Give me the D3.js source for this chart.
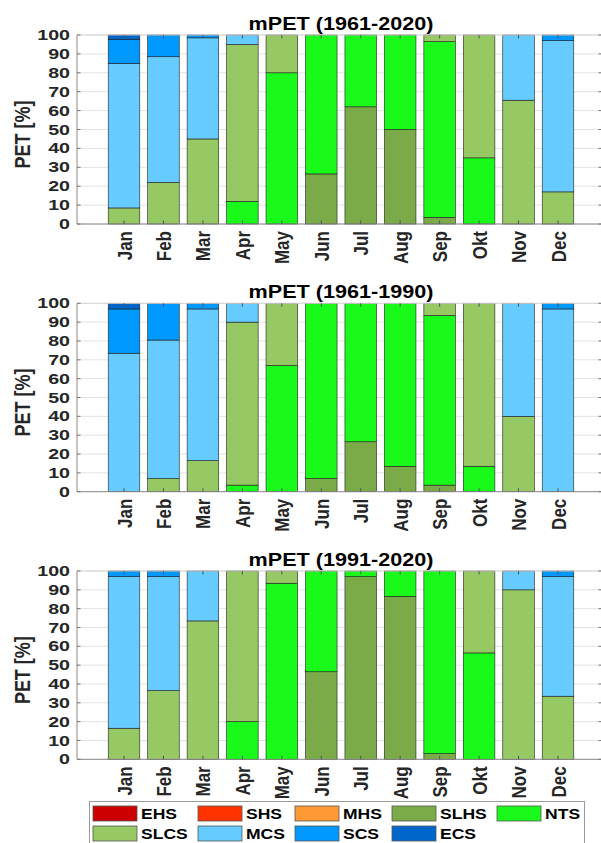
<!DOCTYPE html>
<html>
<head>
<meta charset="utf-8">
<script src="https://cdn.jsdelivr.net/npm/d3@7"></script>
<style>
  html, body { margin: 0; padding: 0; background: #fff; }
  svg { display: block; }
  text { font-family: "Liberation Sans", Arial, sans-serif; font-weight: bold; fill: #262626; }
</style>
</head>
<body>
<svg id="chart" width="601" height="843"></svg>
<script>
// Months on the category axis
const months = ["Jan", "Feb", "Mar", "Apr", "May", "Jun", "Jul", "Aug", "Sep", "Okt", "Nov", "Dec"];

// Thermal classes, stacked bottom to top
const classes = ["EHS", "SHS", "MHS", "SLHS", "NTS", "SLCS", "MCS", "SCS", "ECS"];
const classColors = ["#cc0000", "#ff3300", "#ff9933", "#7bab48", "#1afa1a", "#96c864", "#66ccff", "#0099ff", "#0066cc"];

// Share of each class per month [%], one row per class
const pet1961_2020 = [
  [0, 0, 0, 0, 0, 0, 0, 0, 0, 0, 0, 0],
  [0, 0, 0, 0, 0, 0, 0, 0, 0, 0, 0, 0],
  [0, 0, 0, 0, 0, 0, 0, 0, 0, 0, 0, 0],
  [0, 0, 0, 0, 0, 26.5, 62, 50, 3.5, 0, 0, 0],
  [0, 0, 0, 12, 80, 73.5, 38, 50, 93, 35, 0, 0],
  [8.5, 22, 45, 83, 20, 0, 0, 0, 3.5, 65, 65.5, 17],
  [76.5, 66.5, 53.5, 5, 0, 0, 0, 0, 0, 0, 34.5, 80],
  [12.7, 11.5, 1.5, 0, 0, 0, 0, 0, 0, 0, 0, 3],
  [2.3, 0, 0, 0, 0, 0, 0, 0, 0, 0, 0, 0]
];
const pet1961_1990 = [
  [0, 0, 0, 0, 0, 0, 0, 0, 0, 0, 0, 0],
  [0, 0, 0, 0, 0, 0, 0, 0, 0, 0, 0, 0],
  [0, 0, 0, 0, 0, 0, 0, 0, 0, 0, 0, 0],
  [0, 0, 0, 0, 0, 7, 26.5, 13.5, 3.5, 0, 0, 0],
  [0, 0, 0, 3.5, 67, 93, 73.5, 86.5, 90, 13.5, 0, 0],
  [0, 7, 16.5, 86.5, 33, 0, 0, 0, 6.5, 86.5, 40, 0],
  [73.5, 73.5, 80.5, 10, 0, 0, 0, 0, 0, 0, 60, 97],
  [23.5, 19.5, 3, 0, 0, 0, 0, 0, 0, 0, 0, 3],
  [3, 0, 0, 0, 0, 0, 0, 0, 0, 0, 0, 0]
];
const pet1991_2020 = [
  [0, 0, 0, 0, 0, 0, 0, 0, 0, 0, 0, 0],
  [0, 0, 0, 0, 0, 0, 0, 0, 0, 0, 0, 0],
  [0, 0, 0, 0, 0, 0, 0, 0, 0, 0, 0, 0],
  [0, 0, 0, 0, 0, 46.5, 97, 86.5, 3, 0, 0, 0],
  [0, 0, 0, 20, 93.5, 53.5, 3, 13.5, 97, 56.5, 0, 0],
  [16.5, 36.5, 73.5, 80, 6.5, 0, 0, 0, 0, 43.5, 90, 33.5],
  [80.5, 60.5, 26.5, 0, 0, 0, 0, 0, 0, 0, 10, 63.5],
  [3, 3, 0, 0, 0, 0, 0, 0, 0, 0, 0, 3],
  [0, 0, 0, 0, 0, 0, 0, 0, 0, 0, 0, 0]
];

const panelTitles = ["mPET (1961-2020)", "mPET (1961-1990)", "mPET (1991-2020)"];
const panelData = [pet1961_2020, pet1961_1990, pet1991_2020];
const yTicks = [0, 10, 20, 30, 40, 50, 60, 70, 80, 90, 100];

// Layout of the three stacked axes
const axLeft = 77, axRight = 602;
const panelBox = [
  { top: 35, bottom: 224, titleY: 30 },
  { top: 303.3, bottom: 491.7, titleY: 298 },
  { top: 571, bottom: 759.3, titleY: 566 }
];

const svg = d3.select("#chart");

// Month index -> bar centre
const x = d3.scaleLinear().domain([1, 12]).range([124, 558]);
const barW = 0.8 * (x(2) - x(1));

// Horizontal stretch of the glyphs
function stretchedText(g, tx, ty, sx, rot) {
  return g.append("text")
    .attr("transform", `translate(${tx},${ty}) scale(${sx},1)` + (rot ? ` rotate(${rot})` : ""));
}

panelData.forEach((rows, p) => {
  const box = panelBox[p];
  const y = d3.scaleLinear().domain([0, 100]).range([box.bottom, box.top]);
  const g = svg.append("g");

  // grid
  g.append("g").selectAll("line").data(yTicks).join("line")
    .attr("x1", axLeft).attr("x2", axRight)
    .attr("y1", d => y(d)).attr("y2", d => y(d))
    .attr("stroke", "#e3e3e3").attr("stroke-width", 1);

  // stacked segments
  const stackRows = months.map((m, i) => {
    const r = { month: m, idx: i + 1 };
    classes.forEach((c, k) => { r[c] = rows[k][i]; });
    return r;
  });
  const stacked = d3.stack().keys(classes)(stackRows);
  stacked.forEach((layer, k) => {
    g.append("g").selectAll("rect")
      .data(layer.filter(d => d[1] - d[0] > 0))
      .join("rect")
      .attr("x", d => x(d.data.idx) - barW / 2)
      .attr("width", barW)
      .attr("y", d => y(d[1]))
      .attr("height", d => y(d[0]) - y(d[1]))
      .attr("fill", classColors[k])
      .attr("stroke", "#1f1f1f")
      .attr("stroke-width", 0.6);
  });

  // axis lines
  g.append("line").attr("x1", axLeft).attr("x2", axLeft).attr("y1", y(100)).attr("y2", y(0))
    .attr("stroke", "#8a8a8a").attr("stroke-width", 1);
  g.append("line").attr("x1", axLeft).attr("x2", axRight).attr("y1", y(0)).attr("y2", y(0))
    .attr("stroke", "#8a8a8a").attr("stroke-width", 1);
  g.append("line").attr("x1", axLeft).attr("x2", axRight).attr("y1", y(100)).attr("y2", y(100))
    .attr("stroke", "#d6d6d6").attr("stroke-width", 1);

  // tick marks, drawn over the bars
  const xt = g.append("g");
  months.forEach((m, i) => {
    const cx = x(i + 1);
    xt.append("line").attr("x1", cx).attr("x2", cx).attr("y1", y(0)).attr("y2", y(0) - 3.5)
      .attr("stroke", "#555").attr("stroke-width", 1);
    xt.append("line").attr("x1", cx).attr("x2", cx).attr("y1", y(100)).attr("y2", y(100) + 3.5)
      .attr("stroke", "#555").attr("stroke-width", 1);
  });
  yTicks.forEach(t => {
    xt.append("line").attr("x1", axLeft).attr("x2", axLeft + 3.5).attr("y1", y(t)).attr("y2", y(t))
      .attr("stroke", "#777").attr("stroke-width", 1);
    xt.append("line").attr("x1", axRight - 3.5).attr("x2", axRight).attr("y1", y(t)).attr("y2", y(t))
      .attr("stroke", "#777").attr("stroke-width", 1);
  });

  // y tick labels
  yTicks.forEach(t => {
    stretchedText(g, 70, y(t), 1.4)
      .attr("text-anchor", "end").attr("dy", "0.36em")
      .style("font-size", "14px").text(t);
  });

  // month labels
  months.forEach((m, i) => {
    stretchedText(g, x(i + 1), y(0) + 7, 1.23, -90)
      .attr("text-anchor", "end").attr("dy", "0.36em")
      .style("font-size", "17px").text(m);
  });

  // y label
  stretchedText(g, 22, (y(0) + y(100)) / 2 + 5, 1.25, -90)
    .attr("text-anchor", "middle").attr("dy", "0.36em")
    .style("font-size", "18px").text("PET [%]");

  // title
  stretchedText(g, 341, box.titleY, 1.2)
    .attr("text-anchor", "middle")
    .style("font-size", "18px").style("fill", "#000").text(panelTitles[p]);
});

// legend
const legend = svg.append("g");
legend.append("rect").attr("x", 89.5).attr("y", 801.5).attr("width", 495).attr("height", 60)
  .attr("fill", "#fff").attr("stroke", "#9a9a9a").attr("stroke-width", 1);
const legendCols = [93, 198, 295, 392, 497];
const legendRows = [806, 826];
classes.forEach((c, k) => {
  const col = k < 5 ? k : k - 5;
  const row = k < 5 ? 0 : 1;
  const lx = legendCols[col], ly = legendRows[row];
  legend.append("rect").attr("x", lx).attr("y", ly).attr("width", 44).attr("height", 15)
    .attr("fill", classColors[k]).attr("stroke", "#555").attr("stroke-width", 0.8);
  stretchedText(legend, lx + 48, ly + 13, 1.17)
    .style("font-size", "15px").style("fill", "#000").text(c);
});
</script>
</body>
</html>
